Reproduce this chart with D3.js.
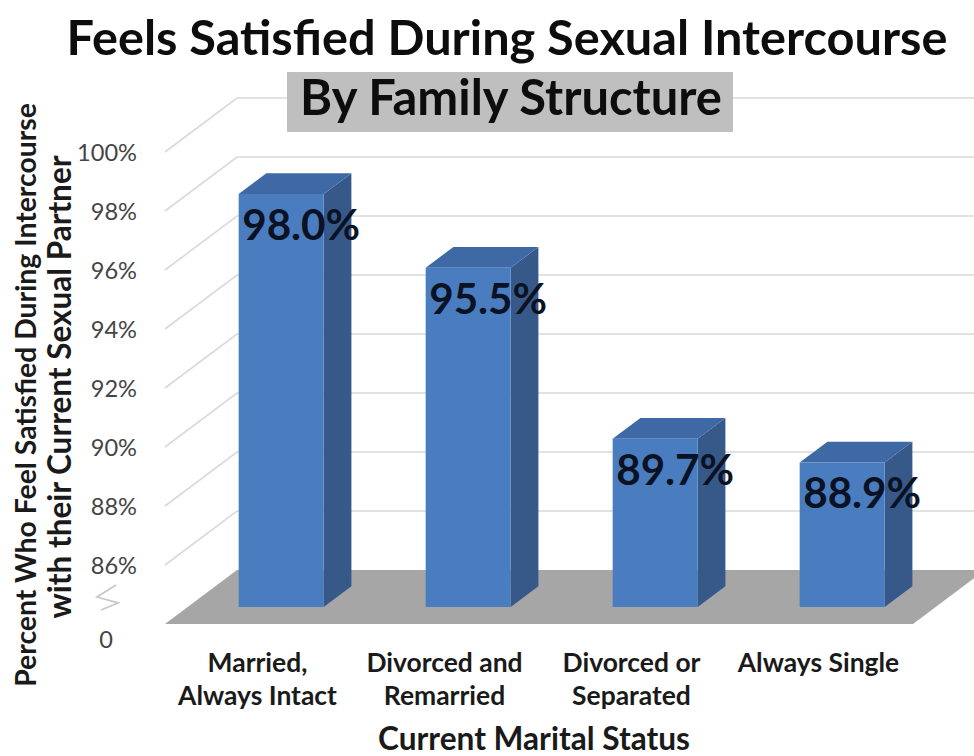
<!DOCTYPE html>
<html>
<head>
<meta charset="utf-8">
<script src="https://cdn.jsdelivr.net/npm/d3@7"></script>
<style>
  html, body { margin: 0; padding: 0; background: #ffffff; }
  svg { display: block; }
  text { font-family: Lato, "Open Sans", sans-serif; }
</style>
</head>
<body>
<svg id="chart" width="974" height="756"></svg>
<script>
// ---- data ----
const categories = ["Married, Always Intact", "Divorced and Remarried", "Divorced or Separated", "Always Single"];
const categoryLines = [["Married,", "Always Intact"], ["Divorced and", "Remarried"], ["Divorced or", "Separated"], ["Always Single"]];
const values = [98.0, 95.5, 89.7, 88.9];
const valueLabels = ["98.0%", "95.5%", "89.7%", "88.9%"];
const tickValues = [86, 88, 90, 92, 94, 96, 98, 100];
const tickLabels = ["86%", "88%", "90%", "92%", "94%", "96%", "98%", "100%"];
const axisBottomLabel = "0";
const title = "Feels Satisfied During Sexual Intercourse";
const subtitle = "By Family Structure";
const yTitle = ["Percent Who Feel Satisfied During Intercourse", "with their Current Sexual Partner"];
const xTitle = "Current Marital Status";

// ---- layout ----
const svg = d3.select("#chart");
const depthX = 72, depthY = 54;       // full depth of the 3D box
const barZ0 = 0.315, barZ1 = 0.70;    // bar depth range (fraction of box depth)

const x = d3.scaleBand().domain(categories).range([165, 913])
  .paddingInner(1 - 85 / 187).paddingOuter((1 - 85 / 187) / 2);
const y = d3.scaleLinear().domain([84, 100]).range([624, 152]);
const P = (px, py, z) => [px + z * depthX, py - z * depthY];

function fit(sel, width) {
  const L = sel.node().getComputedTextLength();
  const fs = parseFloat(sel.attr("font-size"));
  sel.attr("font-size", fs * width / L);
  return fs * width / L;
}

// gridlines (side wall + back wall)
const grid = svg.append("g").attr("stroke", "#d9d9d9").attr("stroke-width", 1.6).attr("fill", "none");
tickValues.forEach(v => {
  const a = P(165, y(v), 0), b = P(165, y(v), 1), c = P(913, y(v), 1);
  grid.append("polyline").attr("points", [a, b, [990, c[1]]].map(p => p.join(",")).join(" "));
});

// floor
const f = [P(165, y(84), 0), P(913, y(84), 0), P(913, y(84), 1), P(165, y(84), 1)];
svg.append("polygon").attr("points", f.map(p => p.join(",")).join(" ")).attr("fill", "#a6a6a6");

// bars
const bars = svg.append("g");
categories.forEach((c, i) => {
  const x0 = x(c), x1 = x(c) + x.bandwidth();
  const yt = y(values[i]), yb = y(84);
  const poly = (pts, fill) => bars.append("polygon")
    .attr("points", pts.map(p => p.join(",")).join(" ")).attr("fill", fill);
  // side
  poly([P(x1, yb, barZ0), P(x1, yb, barZ1), P(x1, yt, barZ1), P(x1, yt, barZ0)], "#36598a");
  // top
  poly([P(x0, yt, barZ0), P(x1, yt, barZ0), P(x1, yt, barZ1), P(x0, yt, barZ1)], "#3e69a5");
  // front
  poly([P(x0, yb, barZ0), P(x1, yb, barZ0), P(x1, yt, barZ0), P(x0, yt, barZ0)], "#4a7dbf");
});

// data labels
let dlSize = null;
categories.forEach((c, i) => {
  const front = P(x(c) + x.bandwidth() / 2, y(values[i]), barZ0);
  const t = svg.append("text").text(valueLabels[i])
    .attr("x", front[0] + 20).attr("y", front[1] + 46)
    .attr("text-anchor", "middle").attr("font-weight", 700)
    .attr("fill", "#0b1224").attr("font-size", 40);
  if (dlSize === null) dlSize = fit(t, 118); else t.attr("font-size", dlSize);
});

// y tick labels
let tkSize = null;
tickValues.forEach((v, i) => {
  const t = svg.append("text").text(tickLabels[i])
    .attr("x", 137).attr("y", y(v) + 9)
    .attr("text-anchor", "end").attr("fill", "#454545").attr("font-size", 20);
  if (i === tickValues.length - 1) tkSize = fit(t, 60);
});
svg.selectAll("text").filter(function () { return tickLabels.includes(this.textContent); }).attr("font-size", tkSize);
svg.append("text").text(axisBottomLabel).attr("x", 113).attr("y", y(84) + 24)
  .attr("text-anchor", "end").attr("fill", "#454545").attr("font-size", tkSize);

// axis break marker
svg.append("polyline")
  .attr("points", [[116, 585], [97, 597], [118, 603], [101, 610]].map(p => p.join(",")).join(" "))
  .attr("fill", "none").attr("stroke", "#c8c8c8").attr("stroke-width", 1.8);

// category labels
let catSize = null;
const catG = svg.append("g");
categories.forEach((c, i) => {
  const cx = x(c) + x.bandwidth() / 2 - 1;
  categoryLines[i].forEach((line, j) => {
    const t = catG.append("text").text(line).attr("x", cx).attr("y", 672 + j * 33)
      .attr("text-anchor", "middle").attr("font-weight", 700).attr("fill", "#1a1a1a").attr("font-size", 20);
    if (i === 0 && j === 1) catSize = fit(t, 159);
  });
});
catG.selectAll("text").attr("font-size", catSize);

// x title
const xt = svg.append("text").text(xTitle).attr("x", 534).attr("y", 750)
  .attr("text-anchor", "middle").attr("font-weight", 700).attr("fill", "#1a1a1a").attr("font-size", 22);
fit(xt, 312);

// y title
const yt1 = svg.append("text").text(yTitle[0]).attr("transform", "translate(36,395) rotate(-90)")
  .attr("text-anchor", "middle").attr("font-weight", 700).attr("fill", "#1a1a1a").attr("font-size", 22);
fit(yt1, 584);
const yt2 = svg.append("text").text(yTitle[1]).attr("transform", "translate(71,387) rotate(-90)")
  .attr("text-anchor", "middle").attr("font-weight", 700).attr("fill", "#1a1a1a").attr("font-size", 22);
fit(yt2, 463);

// title
const tt = svg.append("text").text(title).attr("x", 507).attr("y", 55)
  .attr("text-anchor", "middle").attr("font-weight", 700).attr("fill", "#0d0d0d").attr("font-size", 40);
fit(tt, 881);

// subtitle box
svg.append("rect").attr("x", 287).attr("y", 72).attr("width", 446).attr("height", 60).attr("fill", "#bfbfbf");
const st = svg.append("text").text(subtitle).attr("x", 511).attr("y", 115)
  .attr("text-anchor", "middle").attr("font-weight", 700).attr("fill", "#0d0d0d").attr("font-size", 38);
fit(st, 422);
</script>
</body>
</html>
